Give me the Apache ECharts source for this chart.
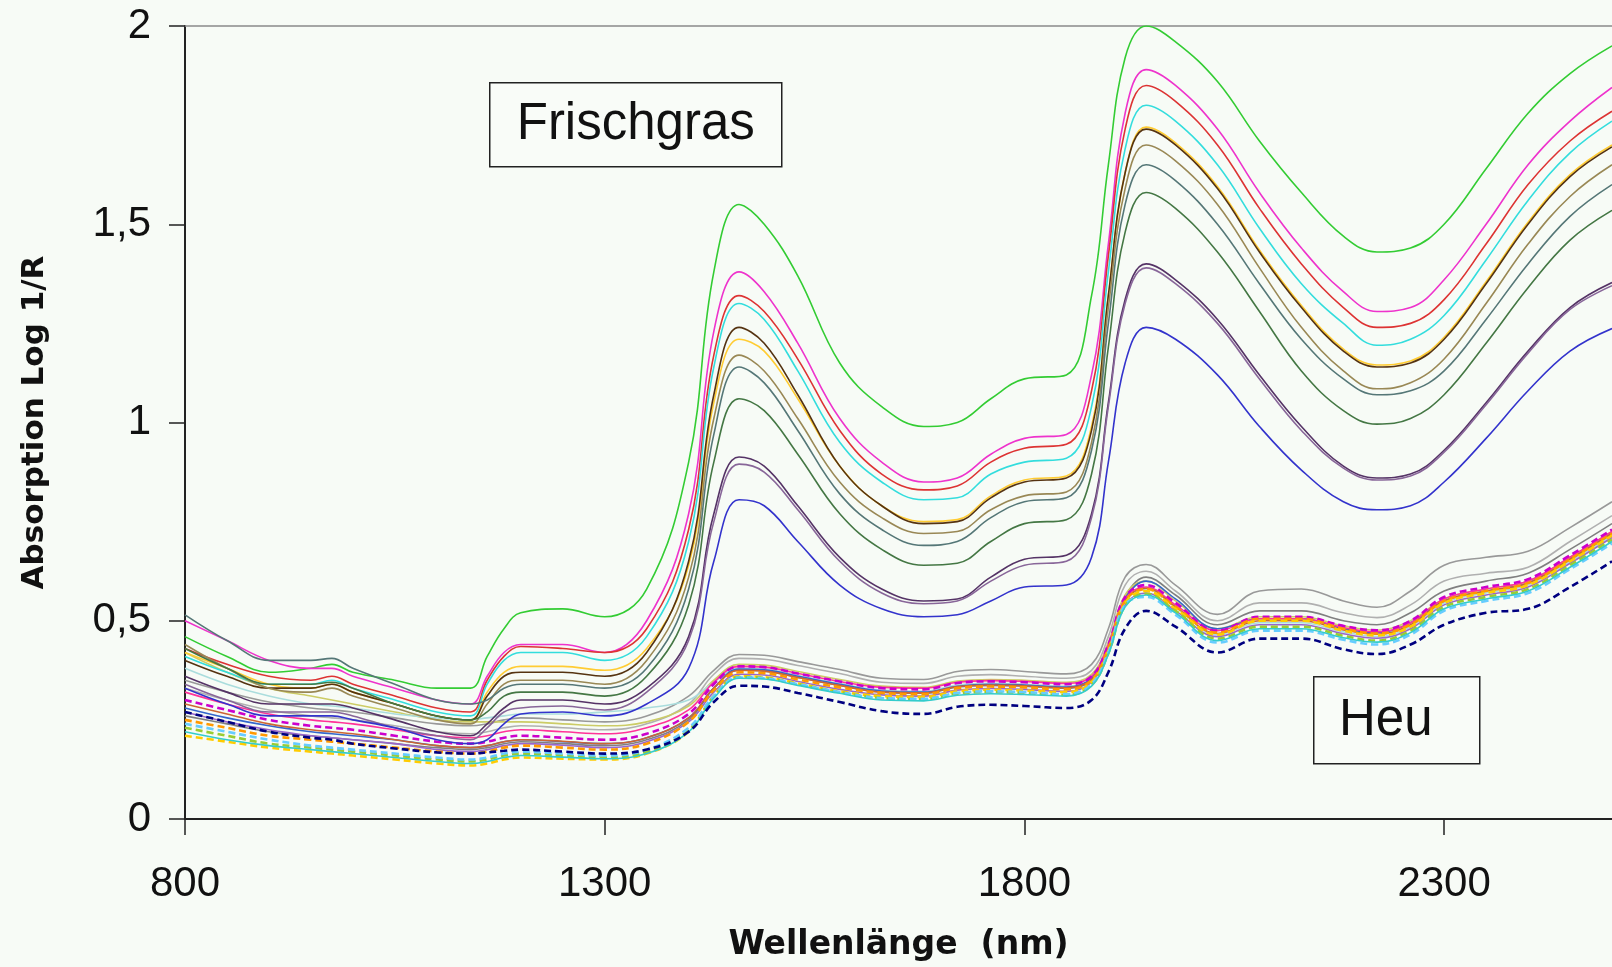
<!DOCTYPE html>
<html>
<head>
<meta charset="utf-8">
<script src="https://cdn.jsdelivr.net/npm/echarts@6/dist/echarts.min.js"></script>
<style>
  html, body { margin: 0; padding: 0; background: #f7fbf6; }
  #chart { width: 1612px; height: 967px; }
</style>
</head>
<body>
<div id="chart"></div>
<script>
// wavelength grid (nm) shared by all spectra
const wavelengths = [800, 850, 900, 950, 975, 1000, 1050, 1100, 1140, 1160, 1180, 1200, 1250, 1300, 1350, 1400, 1430, 1460, 1490, 1530, 1580, 1630, 1680, 1720, 1760, 1800, 1850, 1880, 1900, 1920, 1945, 1980, 2030, 2080, 2130, 2180, 2220, 2260, 2300, 2350, 2400, 2450, 2500];

const xTicks = [800, 1300, 1800, 2300];

// Frischgras spectra (log 1/R)
const fresh1 = [0.46,0.41,0.37,0.38,0.39,0.37,0.35,0.33,0.33,0.41,0.48,0.52,0.53,0.51,0.58,0.90,1.38,1.55,1.50,1.37,1.15,1.04,0.99,1.00,1.06,1.11,1.12,1.32,1.65,1.92,2.00,1.96,1.86,1.71,1.58,1.47,1.43,1.44,1.50,1.64,1.78,1.88,1.95];
const fresh2 = [0.50,0.45,0.40,0.38,0.38,0.36,0.33,0.30,0.29,0.36,0.42,0.44,0.44,0.42,0.50,0.77,1.23,1.38,1.33,1.20,1.01,0.90,0.85,0.86,0.92,0.96,0.97,1.12,1.45,1.78,1.89,1.85,1.74,1.58,1.44,1.33,1.28,1.29,1.36,1.50,1.65,1.76,1.845];
const fresh3 = [0.43,0.39,0.36,0.35,0.36,0.34,0.31,0.28,0.27,0.35,0.41,0.435,0.43,0.42,0.48,0.73,1.17,1.32,1.28,1.16,0.98,0.87,0.83,0.84,0.90,0.935,0.945,1.08,1.42,1.74,1.85,1.81,1.70,1.54,1.40,1.29,1.24,1.25,1.31,1.45,1.60,1.71,1.785];
const fresh4 = [0.41,0.37,0.34,0.34,0.35,0.33,0.30,0.27,0.26,0.34,0.40,0.42,0.42,0.40,0.46,0.70,1.14,1.30,1.26,1.13,0.95,0.85,0.805,0.81,0.87,0.90,0.91,1.04,1.38,1.69,1.80,1.76,1.65,1.49,1.35,1.25,1.195,1.21,1.27,1.41,1.56,1.68,1.76];
const fresh5 = [0.40,0.36,0.33,0.33,0.34,0.32,0.29,0.26,0.25,0.31,0.36,0.37,0.37,0.36,0.42,0.65,1.07,1.24,1.20,1.07,0.89,0.79,0.745,0.75,0.81,0.85,0.86,0.98,1.32,1.63,1.74,1.70,1.59,1.43,1.29,1.18,1.14,1.15,1.21,1.35,1.50,1.62,1.695];
const fresh6 = [0.42,0.38,0.34,0.33,0.34,0.32,0.29,0.26,0.25,0.32,0.37,0.385,0.385,0.375,0.43,0.64,1.05,1.21,1.18,1.06,0.89,0.79,0.75,0.755,0.815,0.855,0.865,0.99,1.32,1.63,1.745,1.705,1.595,1.435,1.295,1.185,1.145,1.155,1.215,1.355,1.505,1.625,1.70];
const fresh7 = [0.44,0.38,0.33,0.32,0.33,0.31,0.28,0.25,0.24,0.29,0.34,0.35,0.35,0.34,0.40,0.61,1.01,1.17,1.13,1.01,0.85,0.76,0.72,0.725,0.78,0.815,0.825,0.95,1.29,1.59,1.70,1.66,1.55,1.39,1.24,1.13,1.085,1.10,1.16,1.30,1.45,1.57,1.65];
const fresh8 = [0.515,0.45,0.40,0.40,0.405,0.38,0.34,0.30,0.29,0.30,0.33,0.34,0.34,0.33,0.38,0.58,0.97,1.14,1.10,0.98,0.82,0.73,0.69,0.70,0.76,0.80,0.81,0.93,1.25,1.55,1.65,1.61,1.50,1.35,1.21,1.11,1.07,1.08,1.13,1.26,1.40,1.52,1.60];
const fresh9 = [0.43,0.38,0.34,0.34,0.345,0.33,0.29,0.26,0.25,0.27,0.31,0.32,0.32,0.31,0.36,0.54,0.90,1.06,1.03,0.92,0.77,0.68,0.64,0.645,0.70,0.745,0.755,0.87,1.19,1.48,1.58,1.54,1.43,1.28,1.13,1.03,0.996,1.01,1.07,1.20,1.34,1.46,1.535];
const fresh10 = [0.36,0.32,0.29,0.29,0.29,0.28,0.25,0.22,0.21,0.24,0.28,0.30,0.30,0.29,0.33,0.46,0.77,0.913,0.89,0.79,0.66,0.58,0.55,0.555,0.61,0.655,0.665,0.77,1.05,1.31,1.40,1.36,1.26,1.12,0.99,0.89,0.86,0.87,0.93,1.05,1.18,1.29,1.353];
const fresh11 = [0.34,0.30,0.27,0.27,0.27,0.26,0.23,0.21,0.20,0.23,0.27,0.28,0.285,0.275,0.32,0.45,0.75,0.895,0.875,0.78,0.65,0.57,0.543,0.55,0.60,0.64,0.65,0.76,1.04,1.30,1.39,1.35,1.25,1.11,0.98,0.885,0.855,0.865,0.925,1.045,1.175,1.285,1.345];
const fresh12 = [0.33,0.29,0.26,0.26,0.26,0.25,0.23,0.20,0.19,0.20,0.24,0.265,0.27,0.26,0.29,0.38,0.65,0.805,0.79,0.70,0.59,0.53,0.51,0.515,0.55,0.585,0.59,0.66,0.90,1.15,1.24,1.21,1.12,0.99,0.88,0.80,0.78,0.79,0.85,0.96,1.08,1.18,1.237];

// Heu spectra (log 1/R)
const hay1 = [0.35,0.32,0.295,0.28,0.275,0.27,0.255,0.24,0.235,0.24,0.25,0.255,0.25,0.245,0.26,0.31,0.375,0.415,0.413,0.397,0.377,0.355,0.352,0.372,0.377,0.372,0.366,0.39,0.48,0.61,0.642,0.59,0.516,0.575,0.58,0.55,0.534,0.575,0.64,0.66,0.675,0.735,0.80];
const hay2 = [0.33,0.30,0.275,0.26,0.255,0.25,0.235,0.22,0.215,0.22,0.23,0.235,0.23,0.225,0.24,0.29,0.365,0.405,0.403,0.387,0.367,0.345,0.342,0.36,0.364,0.36,0.355,0.375,0.46,0.59,0.625,0.575,0.50,0.545,0.545,0.52,0.508,0.54,0.60,0.62,0.635,0.70,0.765];
const hay3 = [0.26,0.24,0.22,0.21,0.205,0.20,0.19,0.18,0.175,0.18,0.19,0.195,0.19,0.185,0.20,0.25,0.33,0.375,0.373,0.357,0.337,0.32,0.317,0.333,0.337,0.335,0.33,0.35,0.43,0.56,0.61,0.565,0.49,0.525,0.525,0.50,0.49,0.52,0.575,0.60,0.62,0.68,0.745];
const hay4 = [0.28,0.255,0.235,0.22,0.215,0.21,0.20,0.185,0.18,0.185,0.195,0.20,0.195,0.19,0.205,0.255,0.33,0.378,0.376,0.36,0.34,0.323,0.32,0.335,0.34,0.338,0.333,0.355,0.435,0.555,0.60,0.555,0.48,0.505,0.505,0.48,0.47,0.495,0.55,0.575,0.595,0.655,0.72];
const hay5 = [0.30,0.275,0.25,0.235,0.23,0.225,0.21,0.195,0.19,0.195,0.205,0.21,0.205,0.20,0.215,0.265,0.34,0.385,0.383,0.367,0.347,0.33,0.327,0.343,0.347,0.345,0.34,0.36,0.44,0.56,0.59,0.545,0.475,0.51,0.51,0.487,0.476,0.50,0.56,0.585,0.605,0.665,0.73];
const hay6 = [0.32,0.29,0.265,0.25,0.245,0.24,0.225,0.21,0.205,0.21,0.22,0.225,0.22,0.215,0.23,0.275,0.345,0.385,0.383,0.367,0.347,0.332,0.33,0.345,0.349,0.347,0.342,0.36,0.44,0.555,0.585,0.54,0.475,0.505,0.505,0.483,0.472,0.495,0.555,0.58,0.60,0.66,0.725];
const hay7 = [0.25,0.23,0.21,0.20,0.195,0.19,0.18,0.17,0.165,0.17,0.18,0.185,0.18,0.175,0.19,0.245,0.325,0.37,0.368,0.352,0.332,0.318,0.315,0.33,0.334,0.332,0.327,0.35,0.43,0.55,0.58,0.535,0.47,0.505,0.505,0.48,0.468,0.49,0.55,0.575,0.595,0.655,0.72];
const hay8 = [0.21,0.195,0.18,0.17,0.165,0.16,0.15,0.14,0.135,0.14,0.15,0.155,0.152,0.15,0.165,0.22,0.31,0.36,0.358,0.342,0.322,0.31,0.308,0.322,0.326,0.324,0.32,0.345,0.425,0.545,0.575,0.53,0.465,0.50,0.50,0.475,0.463,0.485,0.545,0.57,0.59,0.65,0.715];
const hay9 = [0.27,0.245,0.225,0.21,0.205,0.20,0.19,0.175,0.17,0.175,0.185,0.19,0.186,0.18,0.195,0.245,0.32,0.365,0.363,0.347,0.327,0.313,0.31,0.325,0.329,0.327,0.322,0.345,0.425,0.54,0.57,0.525,0.46,0.49,0.49,0.467,0.456,0.48,0.54,0.565,0.585,0.645,0.71];
const hay10 = [0.22,0.20,0.185,0.175,0.17,0.165,0.155,0.145,0.14,0.145,0.155,0.16,0.156,0.152,0.165,0.22,0.305,0.355,0.353,0.337,0.317,0.30,0.298,0.312,0.316,0.314,0.31,0.335,0.415,0.535,0.565,0.52,0.45,0.48,0.48,0.457,0.446,0.47,0.53,0.555,0.575,0.635,0.70];
const hay11 = [0.24,0.22,0.20,0.185,0.18,0.175,0.165,0.155,0.15,0.155,0.165,0.17,0.165,0.16,0.175,0.23,0.31,0.357,0.355,0.34,0.32,0.305,0.303,0.318,0.322,0.32,0.315,0.34,0.42,0.54,0.56,0.515,0.445,0.475,0.475,0.452,0.44,0.465,0.525,0.55,0.57,0.63,0.695];
const hay12 = [0.42,0.37,0.33,0.31,0.30,0.29,0.27,0.25,0.245,0.245,0.245,0.245,0.24,0.235,0.245,0.285,0.35,0.39,0.388,0.372,0.352,0.335,0.332,0.348,0.352,0.35,0.345,0.365,0.445,0.565,0.60,0.55,0.48,0.51,0.51,0.487,0.476,0.50,0.555,0.58,0.60,0.66,0.725];
const hay13 = [0.38,0.34,0.31,0.29,0.285,0.28,0.265,0.255,0.25,0.255,0.26,0.265,0.265,0.27,0.28,0.30,0.345,0.38,0.378,0.362,0.342,0.325,0.322,0.338,0.342,0.34,0.335,0.355,0.435,0.55,0.58,0.535,0.465,0.495,0.495,0.472,0.46,0.485,0.545,0.57,0.59,0.65,0.715];
const hay14 = [0.27,0.245,0.22,0.205,0.20,0.19,0.178,0.168,0.165,0.168,0.172,0.175,0.17,0.165,0.175,0.22,0.295,0.336,0.334,0.318,0.295,0.272,0.265,0.283,0.288,0.285,0.28,0.30,0.37,0.48,0.525,0.485,0.42,0.455,0.455,0.428,0.416,0.44,0.49,0.52,0.53,0.585,0.65];
const hay15 = [0.23,0.21,0.19,0.18,0.175,0.17,0.16,0.15,0.145,0.15,0.16,0.165,0.16,0.155,0.17,0.225,0.31,0.358,0.356,0.34,0.32,0.305,0.302,0.316,0.32,0.318,0.313,0.338,0.418,0.538,0.568,0.525,0.455,0.485,0.485,0.462,0.45,0.475,0.535,0.56,0.58,0.64,0.705];
const hay16 = [0.29,0.265,0.24,0.225,0.22,0.215,0.20,0.185,0.18,0.185,0.195,0.20,0.196,0.19,0.205,0.255,0.33,0.375,0.373,0.357,0.337,0.32,0.318,0.334,0.338,0.336,0.331,0.352,0.432,0.55,0.582,0.535,0.468,0.5,0.5,0.477,0.466,0.49,0.55,0.575,0.595,0.655,0.72];

const freshSeries = [
  { values: fresh1, color: "#33cc33" },
  { values: fresh2, color: "#ee33cc" },
  { values: fresh3, color: "#dd3333" },
  { values: fresh4, color: "#33dddd" },
  { values: fresh6, color: "#ffcc33" },
  { values: fresh5, color: "#553311" },
  { values: fresh7, color: "#998855" },
  { values: fresh8, color: "#557777" },
  { values: fresh9, color: "#447744" },
  { values: fresh10, color: "#553366" },
  { values: fresh11, color: "#886699" },
  { values: fresh12, color: "#3333cc" },
];

const haySeries = [
  { values: hay1, color: "#999999" },
  { values: hay2, color: "#b0b0b0" },
  { values: hay3, color: "#808080" },
  { values: hay12, color: "#cccc66" },
  { values: hay13, color: "#aadddd" },
  { values: hay4, color: "#3366cc" },
  { values: hay6, color: "#ff3399" },
  { values: hay16, color: "#cc6633" },
  { values: hay9, color: "#9966cc" },
  { values: hay5, color: "#cc00cc", dashed: true },
  { values: hay7, color: "#ff9900", dashed: true },
  { values: hay8, color: "#ffcc00", dashed: true },
  { values: hay15, color: "#99cc33", dashed: true },
  { values: hay11, color: "#66ccff", dashed: true },
  { values: hay10, color: "#33cccc" },
  { values: hay14, color: "#000080", dashed: true },
];

function toLine(item, width) {
  return {
    type: "line",
    data: wavelengths.map((w, i) => [w, item.values[i]]),
    smooth: 0.4,
    symbol: "none",
    silent: true,
    lineStyle: {
      color: item.color,
      width: item.dashed ? 2.6 : width,
      type: item.dashed ? [7, 4] : "solid",
    },
  };
}

const chart = echarts.init(document.getElementById("chart"));

const option = {
  backgroundColor: "#f7fbf6",
  animation: false,
  grid: { left: 185, top: 26, right: 0, bottom: 147 },
  xAxis: [
    {
      type: "value",
      min: 800,
      max: 2500,
      axisLine: { lineStyle: { color: "#222", width: 2 } },
      axisTick: { customValues: xTicks, length: 16, lineStyle: { color: "#222", width: 1.5 } },
      axisLabel: {
        customValues: xTicks,
        margin: 44,
        fontFamily: "Liberation Sans, Arial, sans-serif",
        fontSize: 42,
        color: "#111",
        formatter: (v) => String(v),
      },
      splitLine: { show: false },
      name: "Wellenlänge  (nm)",
      nameLocation: "middle",
      nameGap: 110,
      nameTextStyle: {
        fontFamily: "DejaVu Sans",
        fontWeight: "bold",
        fontSize: 33,
        color: "#111",
      },
    },
    {
      // thin frame line along the top of the plot
      type: "value",
      position: "top",
      min: 800,
      max: 2500,
      axisLine: { lineStyle: { color: "#8a8a8a", width: 1.5 } },
      axisTick: { show: false },
      axisLabel: { show: false },
      splitLine: { show: false },
    },
  ],
  yAxis: {
    type: "value",
    min: 0,
    max: 2,
    interval: 0.5,
    axisLine: { show: true, lineStyle: { color: "#222", width: 2 } },
    axisTick: { show: true, length: 16, lineStyle: { color: "#222", width: 1.5 } },
    axisLabel: {
      margin: 34,
      fontFamily: "Liberation Sans, Arial, sans-serif",
      fontSize: 42,
      color: "#111",
      formatter: (v) => String(v).replace(".", ","),
    },
    splitLine: { show: false },
    name: "Absorption Log 1/R",
    nameLocation: "middle",
    nameGap: 135,
    nameTextStyle: {
      fontFamily: "DejaVu Sans",
      fontWeight: "bold",
      fontSize: 31,
      color: "#111",
    },
  },
  graphic: [
    {
      type: "group",
      left: 489,
      top: 82,
      children: [
        { type: "rect", shape: { x: 0, y: 0, width: 292, height: 84 }, style: { fill: "#f9fcf8", stroke: "#222", lineWidth: 1.5 } },
        { type: "text", x: 146, y: 42, style: { text: "Frischgras", font: "51px Liberation Sans, Arial, sans-serif", fill: "#111", align: "center", verticalAlign: "middle" } },
      ],
    },
    {
      type: "group",
      left: 1313,
      top: 676,
      children: [
        { type: "rect", shape: { x: 0, y: 0, width: 166, height: 87 }, style: { fill: "#f9fcf8", stroke: "#222", lineWidth: 1.5 } },
        { type: "text", x: 72, y: 44, style: { text: "Heu", font: "51px Liberation Sans, Arial, sans-serif", fill: "#111", align: "center", verticalAlign: "middle" } },
      ],
    },
  ],
  series: [
    ...haySeries.map((s) => toLine(s, 1.6)),
    ...freshSeries.map((s) => toLine(s, 1.6)),
  ],
};

chart.setOption(option);
</script>
</body>
</html>
